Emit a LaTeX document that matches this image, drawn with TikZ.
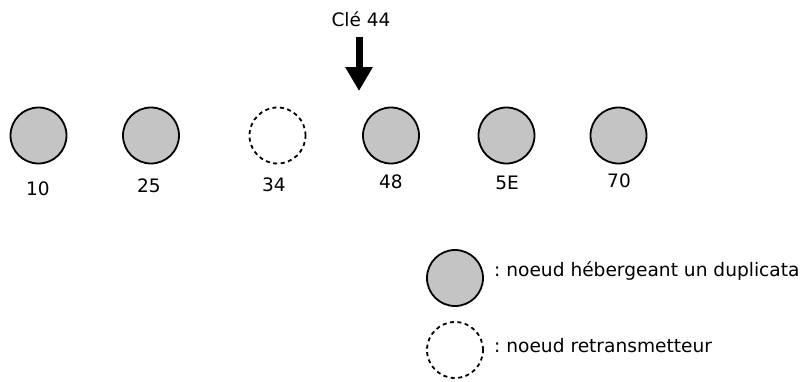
\documentclass[tikz,border=0pt]{standalone}
\usepackage{fontspec}
\setmainfont{DejaVu Sans}
\usetikzlibrary{arrows.meta}
\definecolor{nodegray}{RGB}{196,196,196}
\frenchspacing
\begin{document}
\begin{tikzpicture}[x=1pt,y=-1pt,
  dup/.style={circle,draw=black,line width=1.8pt,fill=nodegray,minimum size=56pt,inner sep=0pt},
  relay/.style={circle,draw=black,line width=1.8pt,dash pattern=on 4pt off 3.5pt,minimum size=56pt,inner sep=0pt},
  lbl/.style={anchor=base,font=\fontsize{18.5}{22}\selectfont,inner sep=0pt},
  leg/.style={anchor=base west,font=\fontsize{18.6}{22}\selectfont,inner sep=0pt}]
\useasboundingbox (0,0) rectangle (804,381);
\node[dup] (n10) at (38.5,135.5) {};
\node[dup] (n25) at (151,135.5) {};
\node[relay] (n34) at (277.5,135.5) {};
\node[dup] (n48) at (391,135.5) {};
\node[dup] (n5E) at (506.5,135.5) {};
\node[dup] (n70) at (618.5,135.5) {};
\node[lbl] (l10) at (38,195) {10};
\node[lbl] (l25) at (149,192.5) {25};
\node[lbl] (l34) at (274,191.5) {34};
\node[lbl] (l48) at (391,188.5) {48};
\node[lbl] (l5E) at (507,189.5) {5E};
\node[lbl] (l70) at (619,187.5) {70};
\node[lbl] (key) at (361,26.5) {Clé 44};
\coordinate (a0) at (359,37);
\coordinate (a1) at (359,91);
\draw[line width=7pt,-{Triangle[width=26pt,length=24pt]}] (a0) -- (a1);
\node[dup] (g1) at (455,278) {};
\node[relay] (g2) at (455,350) {};
\node[leg] (t1) at (494,276) {: noeud hébergeant un duplicata};
\node[leg] (t2) at (494,352) {: noeud retransmetteur};
\end{tikzpicture}
\end{document}
